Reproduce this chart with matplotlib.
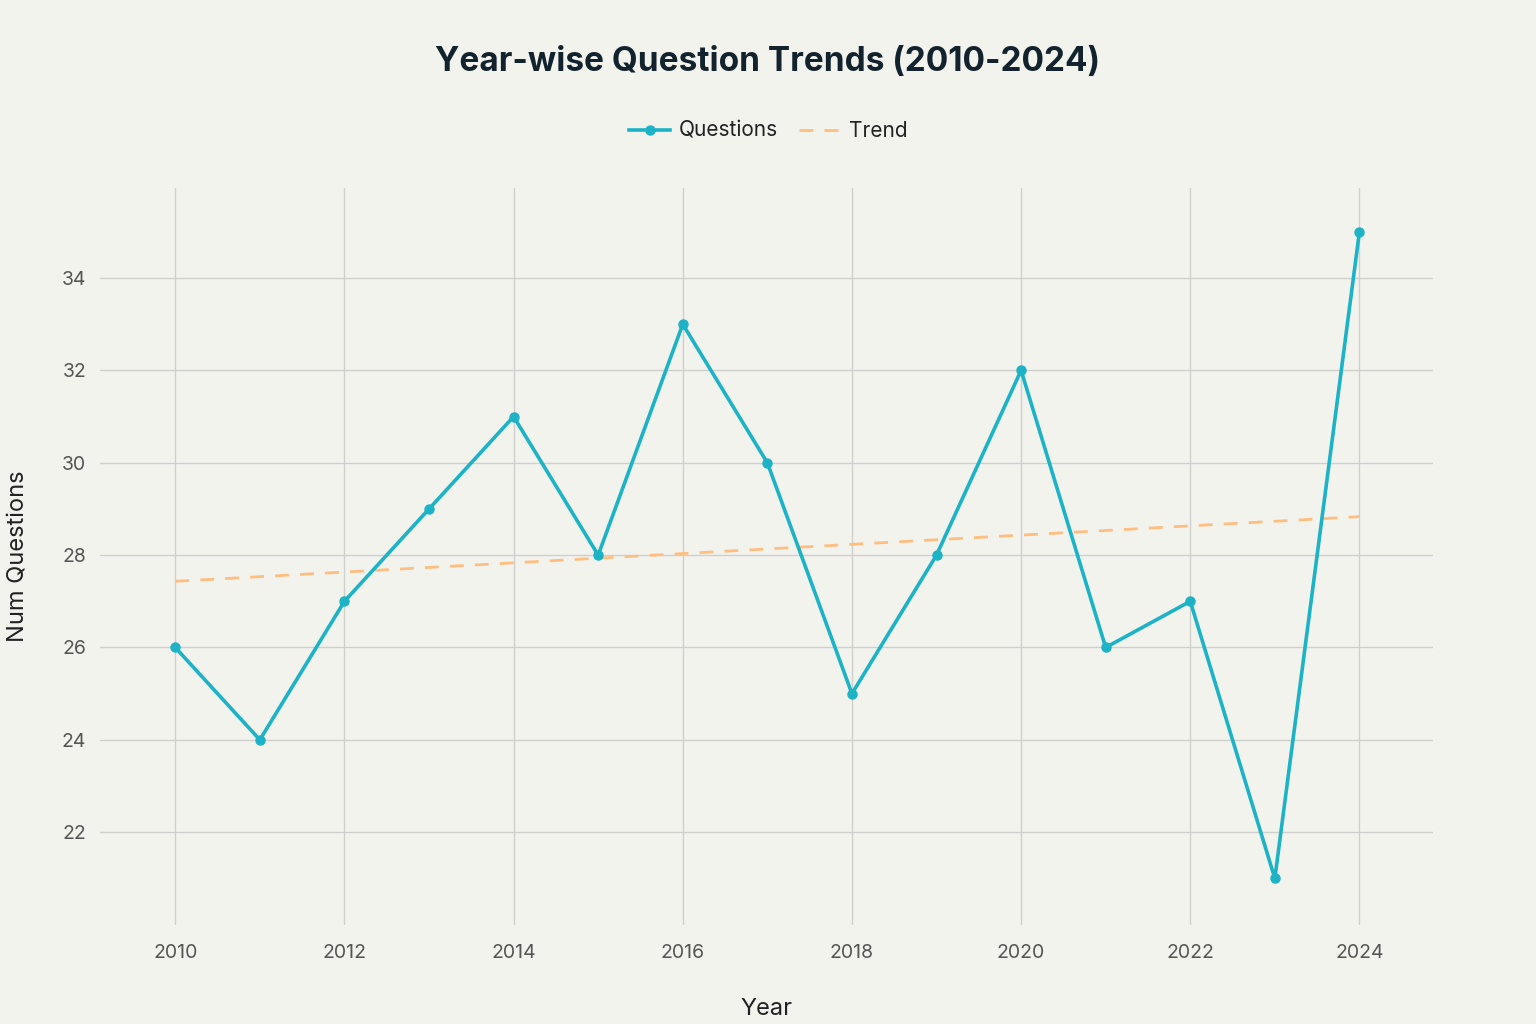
import numpy as np
import matplotlib.pyplot as plt

plt.rcParams['font.family'] = 'Inter'

years = [2010, 2011, 2012, 2013, 2014, 2015, 2016, 2017, 2018, 2019, 2020, 2021, 2022, 2023, 2024]
questions = [26, 24, 27, 29, 31, 28, 33, 30, 25, 28, 32, 26, 27, 21, 35]

# linear trend fitted to the counts
slope, intercept = np.polyfit(years, questions, 1)
trend = [slope * y + intercept for y in years]

bg = '#F3F3EE'
fig = plt.figure(figsize=(15.36, 10.24), dpi=100, facecolor=bg)
ax = fig.add_axes([100 / 1536, 1 - 925 / 1024, 1333 / 1536, 737 / 1024], facecolor=bg)

ax.plot(years, questions, color='#1CB3C6', linewidth=2.6, marker='o', markersize=6.5, label='Questions', zorder=3)
ax.plot(years, trend, color='#FFBE80', linewidth=2, linestyle=(0, (5, 4)), label='Trend', zorder=2)

ax.set_xlim(2009.11, 2024.87)
ax.set_ylim(19.99, 35.95)
ax.set_xticks(range(2010, 2025, 2))
ax.set_yticks(range(22, 35, 2))
ax.grid(color='#CFCFCB', linewidth=1)
ax.set_axisbelow(True)
for s in ax.spines.values():
    s.set_visible(False)
ax.tick_params(length=0, labelsize=14, colors='#555555', pad=10)
ax.tick_params(axis='x', pad=14)
ax.set_xlabel('Year', fontsize=17, color='#222222')
ax.xaxis.set_label_coords(0.5, -(998 - 925) / 737)
ax.set_ylabel('Num Questions', fontsize=17, color='#222222')
ax.yaxis.set_label_coords(-(100 - 30) / 1333, 0.5)

fig.suptitle('Year-wise Question Trends (2010-2024)', fontsize=24, fontweight='bold', color='#13232E', y=1 - 62 / 1024, va='center')
fig.legend(loc='center', bbox_to_anchor=(768 / 1536, 1 - 131 / 1024), ncol=2, frameon=False,
           fontsize=15, handlelength=2, columnspacing=1, handletextpad=0.4, labelcolor='#222222')

fig.savefig('out.png', dpi=100, facecolor=bg)
